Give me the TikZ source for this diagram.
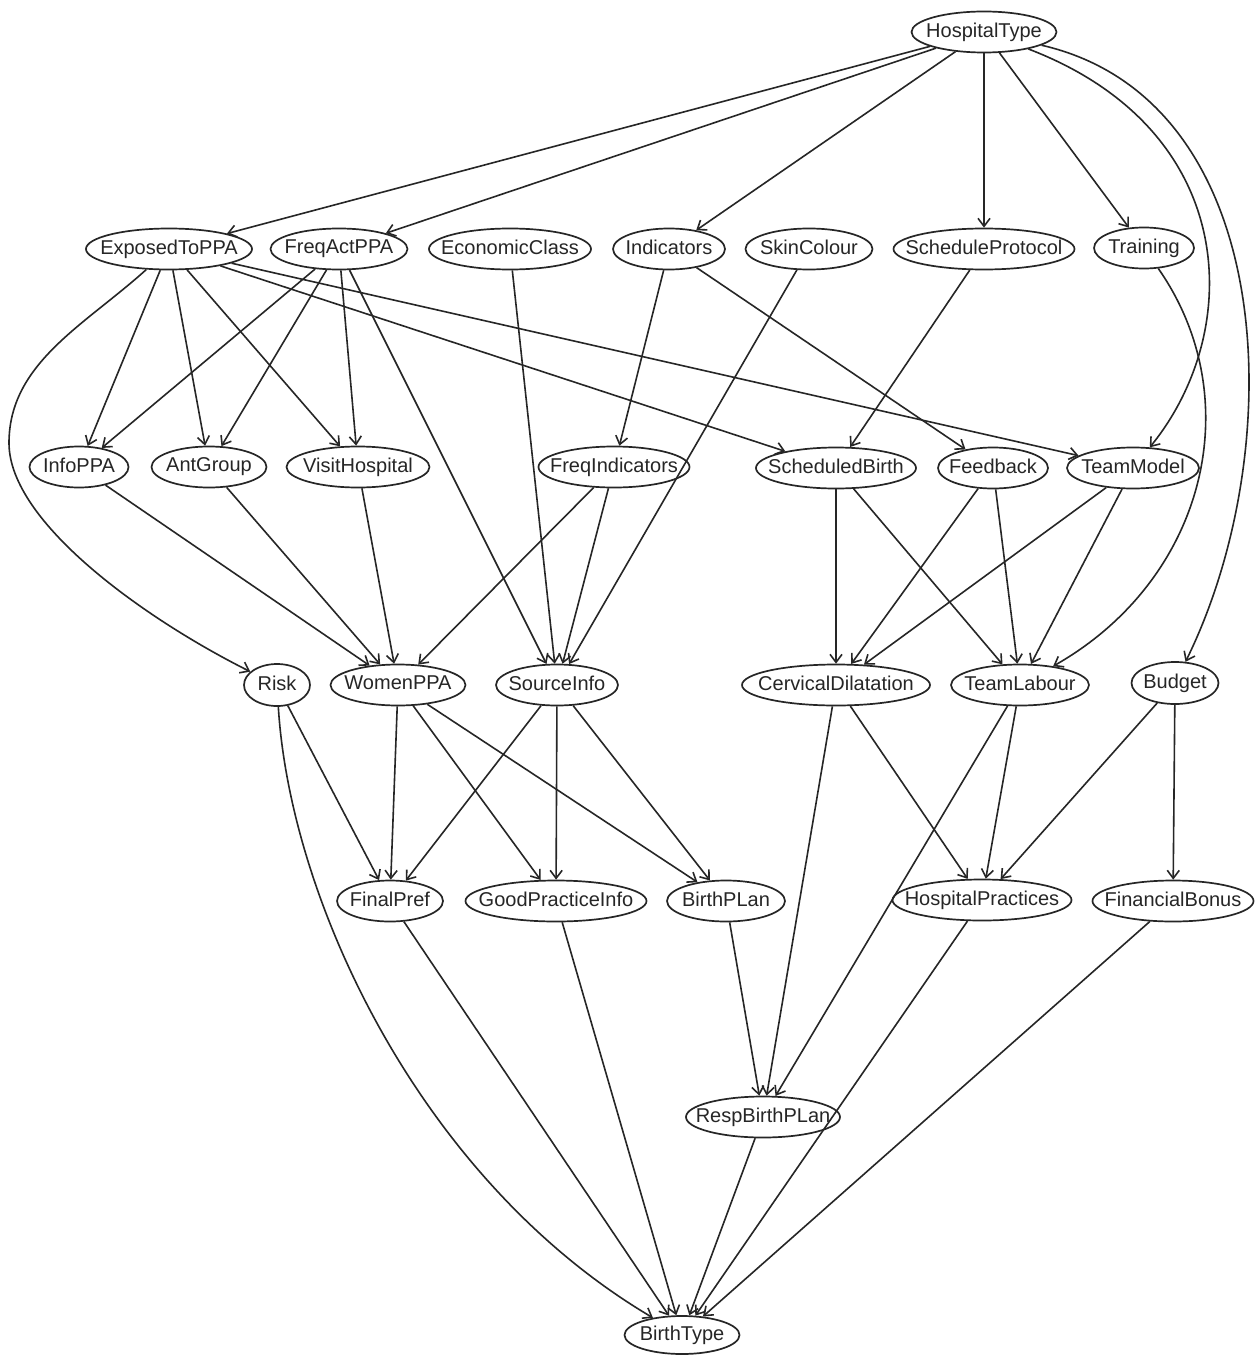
\documentclass[tikz,border=0pt]{standalone}
\usepackage{fontspec}
\setmainfont{Liberation Sans}
\usetikzlibrary{shapes.geometric,arrows.meta}
\newcommand\zlbl[1]{\makebox[0pt]{\vphantom{Ag}#1}}
\begin{document}
\begin{tikzpicture}[x=1pt,y=-1pt,
  nd/.style={ellipse,draw=black!85,line width=1.7pt,inner sep=0pt,minimum height=41pt,text=black!85,font=\fontsize{20}{23}\selectfont},
  ed/.style={draw=black!85,line width=1.6pt,-{Straight Barb[length=8pt,width=12pt]}}]
\useasboundingbox[fill=white] (0,0) rectangle (1255,1356);
% row 1
\node[nd,minimum width=145pt] (HT) at (984,32) {\zlbl{HospitalType}};
% row 2
\node[nd,minimum width=166pt] (EX) at (169,249) {\zlbl{ExposedToPPA}};
\node[nd,minimum width=137pt] (FA) at (339,249) {\zlbl{FreqActPPA}};
\node[nd,minimum width=162pt] (EC) at (510,249) {\zlbl{EconomicClass}};
\node[nd,minimum width=112pt] (IN) at (669,249) {\zlbl{Indicators}};
\node[nd,minimum width=127pt] (SC) at (809,249) {\zlbl{SkinColour}};
\node[nd,minimum width=181pt] (SP) at (984,249) {\zlbl{ScheduleProtocol}};
\node[nd,minimum width=100pt] (TR) at (1144,248) {\zlbl{Training}};
% row 3
\node[nd,minimum width=99pt] (IP) at (79,467) {\zlbl{InfoPPA}};
\node[nd,minimum width=115pt] (AG) at (209,467) {\zlbl{AntGroup}};
\node[nd,minimum width=143pt] (VH) at (358,467) {\zlbl{VisitHospital}};
\node[nd,minimum width=151pt] (FI) at (614,467) {\zlbl{FreqIndicators}};
\node[nd,minimum width=160pt] (SB) at (836,468) {\zlbl{ScheduledBirth}};
\node[nd,minimum width=110pt] (FB) at (993,468) {\zlbl{Feedback}};
\node[nd,minimum width=132pt] (TM) at (1133,468) {\zlbl{TeamModel}};
% row 4
\node[nd,minimum width=66pt,minimum height=42pt] (RI) at (277,685) {\zlbl{Risk}};
\node[nd,minimum width=135pt] (WP) at (398,685) {\zlbl{WomenPPA}};
\node[nd,minimum width=122pt] (SI) at (557,685) {\zlbl{SourceInfo}};
\node[nd,minimum width=188pt] (CD) at (836,685) {\zlbl{CervicalDilatation}};
\node[nd,minimum width=138pt] (TL) at (1020,685) {\zlbl{TeamLabour}};
\node[nd,minimum width=87pt,minimum height=42pt] (BU) at (1175,683) {\zlbl{Budget}};
% row 5
\node[nd,minimum width=106pt] (FP) at (390,901) {\zlbl{FinalPref}};
\node[nd,minimum width=181pt] (GP) at (556,901) {\zlbl{GoodPracticeInfo}};
\node[nd,minimum width=118pt] (BP) at (726,901) {\zlbl{BirthPLan}};
\node[nd,minimum width=179pt] (HP) at (982,900) {\zlbl{HospitalPractices}};
\node[nd,minimum width=161pt] (FN) at (1173,901) {\zlbl{FinancialBonus}};
% row 6, 7
\node[nd,minimum width=154pt] (RB) at (763,1117) {\zlbl{RespBirthPLan}};
\node[nd,minimum width=115pt,minimum height=38pt] (BT) at (682,1335) {\zlbl{BirthType}};
\coordinate (RK) at (9,443);
% edges from HospitalType
\draw[ed] (HT) -- (EX);
\draw[ed] (HT) -- (FA);
\draw[ed] (HT) -- (IN);
\draw[ed] (HT) -- (SP);
\draw[ed] (HT) -- (TR);
\draw[ed] (HT) .. controls (1240,130) and (1245,330) .. (TM);
\draw[ed] (HT) .. controls (1280,100) and (1290,450) .. (BU);
% ExposedToPPA
\draw[ed] (EX) -- (IP);
\draw[ed] (EX) -- (AG);
\draw[ed] (EX) -- (VH);
\draw[ed] (EX) .. controls (85,325) and (9,363) .. (RK) .. controls (9,523) and (147,620) .. (RI);
\draw[ed] (EX) -- (SB);
\draw[ed] (EX) -- (TM);
% FreqActPPA
\draw[ed] (FA) -- (IP);
\draw[ed] (FA) -- (AG);
\draw[ed] (FA) -- (VH);
\draw[ed] (FA) -- (SI);
% others row 2
\draw[ed] (EC) -- (SI);
\draw[ed] (IN) -- (FI);
\draw[ed] (IN) -- (FB);
\draw[ed] (SC) -- (SI);
\draw[ed] (SP) -- (SB);
\draw[ed] (TR) .. controls (1250,400) and (1205,580) .. (TL);
% row 3
\draw[ed] (IP) -- (WP);
\draw[ed] (AG) -- (WP);
\draw[ed] (VH) -- (WP);
\draw[ed] (FI) -- (WP);
\draw[ed] (FI) -- (SI);
\draw[ed] (SB) -- (CD);
\draw[ed] (SB) -- (TL);
\draw[ed] (FB) -- (CD);
\draw[ed] (FB) -- (TL);
\draw[ed] (TM) -- (CD);
\draw[ed] (TM) -- (TL);
% row 4
\draw[ed] (RI) -- (FP);
\draw[ed] (RI) .. controls (290,900) and (420,1180) .. (BT);
\draw[ed] (WP) -- (FP);
\draw[ed] (WP) -- (GP);
\draw[ed] (WP) -- (BP);
\draw[ed] (SI) -- (FP);
\draw[ed] (SI) -- (GP);
\draw[ed] (SI) -- (BP);
\draw[ed] (CD) -- (RB);
\draw[ed] (CD) -- (HP);
\draw[ed] (TL) -- (RB);
\draw[ed] (TL) -- (HP);
\draw[ed] (BU) -- (HP);
\draw[ed] (BU) -- (FN);
% row 5
\draw[ed] (FP) -- (BT);
\draw[ed] (GP) -- (BT);
\draw[ed] (BP) -- (RB);
\draw[ed] (HP) -- (BT);
\draw[ed] (FN) -- (BT);
\draw[ed] (RB) -- (BT);
\end{tikzpicture}
\end{document}
